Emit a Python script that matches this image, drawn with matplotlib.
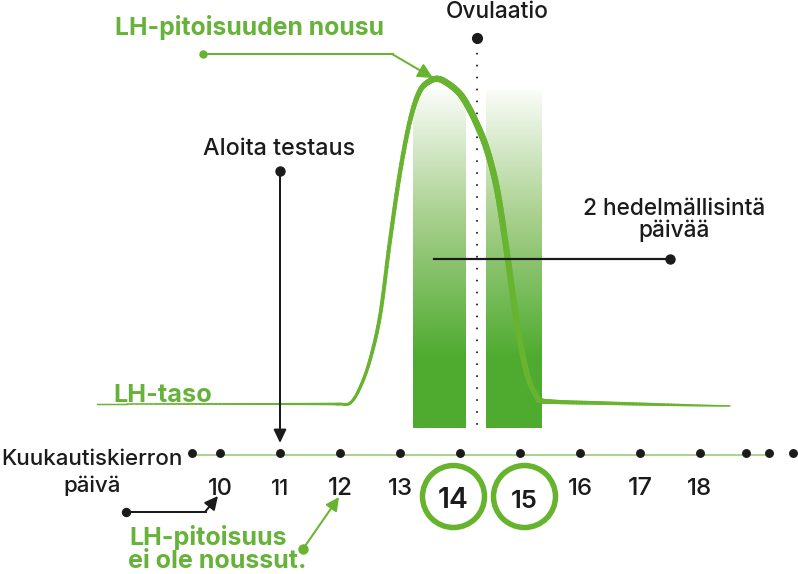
import numpy as np
import matplotlib
matplotlib.use("Agg")
import matplotlib.pyplot as plt
from matplotlib.collections import LineCollection
from matplotlib.colors import LinearSegmentedColormap
from matplotlib.path import Path

plt.rcParams['font.family'] = ['Inter', 'DejaVu Sans']
plt.rcParams['lines.scale_dashes'] = False

# ---------------- data ----------------
days = [10, 11, 12, 13, 14, 15, 16, 17, 18]
fertile_days = [14, 15]
ellipsis_left = [9.53]
ellipsis_right = [18.77, 19.15, 19.55]
start_test_day = 11
ovulation_day = 14.28
fertile_windows = [(13.22, 14.10), (14.43, 15.35)]
window_top = 96.9

# LH level curve (day, relative level 0..100)
lh_day = [7.95, 9.0, 10.0, 11.0, 11.83, 12.0, 12.17, 12.33, 12.5,
          12.67, 12.83, 13.0, 13.17, 13.33, 13.5, 13.65, 13.83, 14.0,
          14.13, 14.28, 14.45, 14.62, 14.78, 14.95, 15.12, 15.28, 15.35,
          15.67, 16.33, 17.17, 18.0, 18.5]
lh_level = [0.0, 0.0, 0.0, 0.0, 0.0, 0.0, 0.3, 4.9, 13.6,
            27.5, 50.0, 71.5, 87.7, 96.6, 99.7, 100.3, 98.5, 95.7,
            92.0, 86.4, 78.4, 66.0, 47.0, 25.0, 9.0, 2.2, 1.0,
            0.6, 0.3, -0.1, -0.45, -0.6]

# ---------------- layout helpers ----------------
W, H = 798, 574
def X(px):
    return 10 + (px - 220) / 60.0
def Y(py):
    return (404 - py) / 3.24
PT = 0.72  # points per pixel at dpi 100

GREEN = '#68b32f'
GREEN_TXT = '#67b23a'
BAR_GREEN = '#4fab30'
AXIS_GREEN = '#a9d58f'
BLACK = '#1b1b1b'

fig = plt.figure(figsize=(W / 100, H / 100), dpi=100)
ax = fig.add_axes([0, 0, 1, 1])
ax.set_xlim(X(0), X(W))
ax.set_ylim(Y(H), Y(0))
ax.axis('off')
renderer = fig.canvas.get_renderer()

# ---------------- fertile window gradient bars ----------------
grad_top_px, grad_solid_px = 92, 358
yy = np.linspace(Y(428), Y(grad_top_px), 300)
vals = np.clip((Y(grad_top_px) - yy) / (Y(grad_top_px) - Y(grad_solid_px)), 0, 1)
vals = 0.03 + 0.97 * vals
cmap = LinearSegmentedColormap.from_list('g', ['#ffffff', '#a6cf8b', BAR_GREEN])
for (x0, x1) in fertile_windows:
    ax.imshow(vals[:, None], extent=(x0, x1, Y(428), window_top), origin='lower',
              cmap=cmap, vmin=0, vmax=1, aspect='auto', zorder=1, interpolation='bilinear')

# ---------------- ovulation dotted line ----------------
ax.plot([ovulation_day, ovulation_day], [Y(424), Y(50)], color=BLACK, lw=1.4,
        linestyle=(0, (0.1, 8.5)), dash_capstyle='round', solid_capstyle='round', zorder=2)
ax.plot([ovulation_day], [Y(38)], 'o', color=BLACK, ms=7, zorder=5)

# ---------------- LH curve: smooth Bezier through the points, varying width ----------------
P = np.column_stack([lh_day, lh_level])
verts = [P[0]]
codes = [Path.MOVETO]
for i in range(len(P) - 1):
    p0 = P[i - 1] if i > 0 else P[i]
    p3 = P[i + 2] if i + 2 < len(P) else P[i + 1]
    verts += [P[i] + (P[i + 1] - p0) / 6.0, P[i + 1] - (p3 - P[i]) / 6.0, P[i + 1]]
    codes += [Path.CURVE4] * 3
path = Path(np.array(verts), codes)
curve_pts = [P[:1]]
for seg, code in path.iter_bezier():
    curve_pts.append(seg(np.linspace(0, 1, 16))[1:])
curve_pts = np.vstack(curve_pts)
segs = np.stack([curve_pts[:-1], curve_pts[1:]], axis=1)
mid_px = 220 + ((curve_pts[:-1, 0] + curve_pts[1:, 0]) / 2 - 10) * 60
w_px = np.interp(mid_px, [97, 270, 345, 380, 410, 437, 480, 520, 541, 560, 650, 730],
                 [1.4, 2.0, 2.6, 3.8, 4.6, 6.2, 6.5, 6.0, 5.0, 4.2, 3.0, 1.4])
lc = LineCollection(segs, linewidths=w_px * PT, colors=GREEN, capstyle='round',
                    joinstyle='round', zorder=4)
ax.add_collection(lc)

# ---------------- day axis ----------------
ax.plot([X(192), X(767)], [Y(455), Y(455)], color=AXIS_GREEN, lw=2 * PT, zorder=2)
ax.plot(days, [Y(453)] * len(days), 'o', color=BLACK, ms=7.5 * PT, zorder=5)
ax.plot(ellipsis_left + ellipsis_right, [Y(453)] * 4, 'o', color=BLACK, ms=7.5 * PT, zorder=5)

def fit(s, x, y, wpx, ha='left', **kw):
    t = ax.text(x, y, s, fontsize=20, ha=ha, va='baseline', **kw)
    bb = t.get_window_extent(renderer)
    t.set_fontsize(20 * wpx / bb.width)
    return t

nudge = {14: -0.12, 15: 0.07}
for d in days:
    if d in fertile_days:
        continue
    fit(str(d), d, Y(495), 25 if d != 11 else 18, ha='center', color=BLACK, fontweight='medium')
for d in fertile_days:
    xd = d + nudge.get(d, 0)
    ax.plot([xd], [Y(496)], 'o', ms=62 * PT, mfc='white', mec='#66b32e', mew=5.5 * PT, zorder=5)
    fit(str(d), xd, Y(508), 31 if d == 14 else 27, ha='center', color=BLACK,
        fontweight='semibold', zorder=6)

# ---------------- texts ----------------
t = fit('Kuukautiskierron', X(91.5), Y(465), 182, ha='center', color=BLACK, fontweight='medium')
fs_axis = t.get_fontsize()
ax.text(X(92), Y(492), 'päivä', fontsize=fs_axis, ha='center', va='baseline', color=BLACK,
        fontweight='medium')

fit('Ovulaatio', X(497), Y(18), 103, ha='center', color=BLACK, fontweight='medium')
fit('Aloita testaus', X(279), Y(155), 152, ha='center', color=BLACK, fontweight='medium')
t = fit('2 hedelmällisintä', X(674), Y(215), 182, ha='center', color=BLACK, fontweight='medium')
ax.text(X(674), Y(237), 'päivää', fontsize=t.get_fontsize(), ha='center', va='baseline',
        color=BLACK, fontweight='medium')

fit('LH-pitoisuuden nousu', X(115), Y(35), 270, color=GREEN_TXT, fontweight='bold')
fit('LH-taso', X(113), Y(402), 99, color=GREEN_TXT, fontweight='bold')
t = fit('LH-pitoisuus', X(129), Y(545), 158, color=GREEN_TXT, fontweight='bold')
ax.text(X(128), Y(568), 'ei ole noussut.', fontsize=t.get_fontsize(), ha='left', va='baseline',
        color=GREEN_TXT, fontweight='bold')

# ---------------- annotation arrows ----------------
# LH surge
ax.plot([X(203), X(393)], [Y(54), Y(54)], color=GREEN, lw=2 * PT, zorder=5)
ax.plot([X(203)], [Y(54)], 'o', color=GREEN, ms=7 * PT, zorder=5)
ax.annotate('', xy=(X(433), Y(78)), xytext=(X(392), Y(54)),
            arrowprops=dict(arrowstyle='-|>,head_length=0.9,head_width=0.45', color=GREEN,
                            lw=2 * PT, shrinkA=0, shrinkB=0), zorder=5)
# start testing
ax.plot([start_test_day], [Y(171)], 'o', color=BLACK, ms=9 * PT, zorder=5)
ax.annotate('', xy=(start_test_day, Y(443)), xytext=(start_test_day, Y(171)),
            arrowprops=dict(arrowstyle='-|>,head_length=0.8,head_width=0.38', color=BLACK,
                            lw=2 * PT, shrinkA=0, shrinkB=0), zorder=5)
# fertile days pointer
ax.plot([X(434), X(670)], [Y(259), Y(259)], color=BLACK, lw=2.2 * PT, zorder=5)
ax.plot([X(670)], [Y(259)], 'o', color=BLACK, ms=9 * PT, zorder=5)
# axis label pointer
ax.plot([X(126), X(206)], [Y(512), Y(512)], color=BLACK, lw=2 * PT, zorder=5)
ax.plot([X(126)], [Y(512)], 'o', color=BLACK, ms=8 * PT, zorder=5)
ax.annotate('', xy=(X(218), Y(496)), xytext=(X(205), Y(512)),
            arrowprops=dict(arrowstyle='-|>,head_length=0.8,head_width=0.4', color=BLACK,
                            lw=2 * PT, shrinkA=0, shrinkB=0), zorder=5)
# not risen pointer
ax.plot([X(303)], [Y(549)], 'o', color=GREEN, ms=9 * PT, zorder=5)
ax.annotate('', xy=(X(339), Y(497)), xytext=(X(303), Y(549)),
            arrowprops=dict(arrowstyle='-|>,head_length=0.8,head_width=0.4', color=GREEN,
                            lw=2 * PT, shrinkA=0, shrinkB=0), zorder=5)

fig.savefig('out.png', dpi=100)
